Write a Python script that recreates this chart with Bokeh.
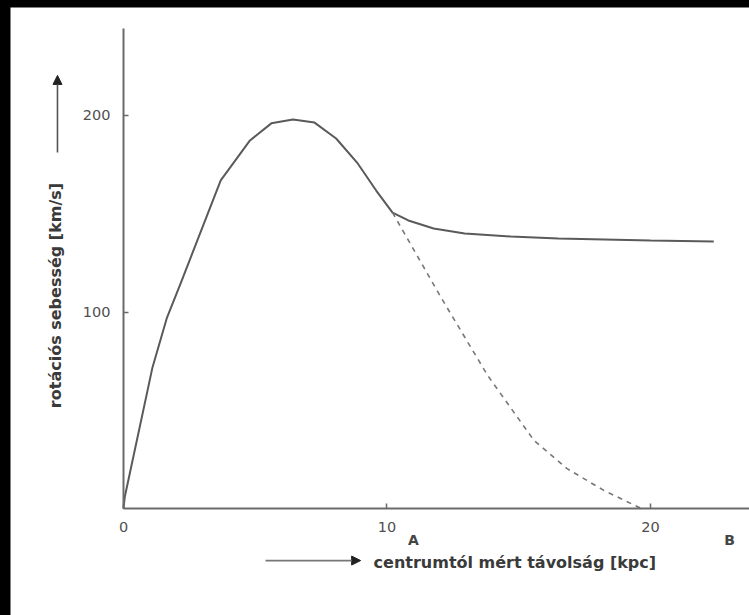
from bokeh.plotting import figure
from bokeh.models import Arrow, NormalHead, Label, FixedTicker, Range1d
from bokeh.layouts import column
from bokeh.embed import file_html
from bokeh.resources import INLINE

# ---- data ----
rot_x = [0, 0.05, 1.1, 1.64, 2.21, 3.69, 4.80, 5.61, 6.43, 7.25, 8.07, 8.89, 9.59, 10.21,
         10.81, 11.77, 12.95, 14.7, 16.5, 20.0, 22.4]
rot_v = [0, 6, 71.8, 96.7, 116, 167, 187.3, 196, 198, 196.4, 188.3, 175.6, 161.8, 150.6,
         146.6, 142.5, 140, 138.4, 137.4, 136.4, 135.9]
kep_x = [10.21, 12.05, 13.82, 15.58, 16.82, 18.23, 19.65]
kep_v = [150.6, 107.4, 67.7, 34.6, 20.4, 9.2, 0]
x_ticks = [0, 10, 20]
y_ticks = [100, 200]
x_title = "centrumtól mért távolság [kpc]"
y_title = "rotációs sebesség [km/s]"
marks = ["A", "B"]
mark_x = [11.0, 23.0]

X_MAX = 23.757
Y_MAX = 244.3
FONT = "DejaVu Sans"

p = figure(width=739, height=608, output_backend="svg", toolbar_location=None,
           x_range=Range1d(-4.288, X_MAX), y_range=Range1d(-54.45, 254.96),
           min_border=0)
p.grid.visible = False
p.outline_line_color = None
p.background_fill_color = "white"
p.border_fill_color = "white"

for ax in (p.xaxis[0], p.yaxis[0]):
    ax.fixed_location = 0
    ax.axis_line_color = "#6a6a6a"
    ax.axis_line_width = 2
    ax.major_tick_line_color = "#6a6a6a"
    ax.major_tick_line_width = 1.5
    ax.major_tick_in = 5
    ax.major_tick_out = 0
    ax.minor_tick_line_color = None
    ax.major_label_text_font = FONT
    ax.major_label_text_font_size = "14.5px"
    ax.major_label_text_color = "#4f4f4f"
p.xaxis[0].bounds = (0, X_MAX)
p.yaxis[0].bounds = (0, Y_MAX)
p.xaxis[0].ticker = FixedTicker(ticks=x_ticks)
p.yaxis[0].ticker = FixedTicker(ticks=y_ticks)
p.xaxis[0].major_label_standoff = 13
p.yaxis[0].major_label_standoff = 13

p.line(rot_x, rot_v, line_color="#5a5a5a", line_width=2)
p.line(kep_x, kep_v, line_color="#777777", line_width=1.6, line_dash="5 5")

# axis titles with arrows
p.add_layout(Label(x=-2.58, y=108.4, text=y_title, angle=90, angle_units="deg",
                   text_align="center", text_baseline="middle", text_font=FONT,
                   text_font_size="16px", text_font_style="bold", text_color="#3a3a3a"))
p.add_layout(Arrow(x_start=-2.505, y_start=181.2, x_end=-2.505, y_end=220.4,
                   line_color="#555555", line_width=1.6,
                   end=NormalHead(size=9, fill_color="#222222", line_color="#222222")))
p.add_layout(Label(x=9.49, y=-27.5, text=x_title, text_align="left",
                   text_baseline="middle", text_font=FONT, text_font_size="16px",
                   text_font_style="bold", text_color="#3a3a3a"))
p.add_layout(Arrow(x_start=5.39, y_start=-26.5, x_end=9.0, y_end=-26.5,
                   line_color="#777777", line_width=1.8,
                   end=NormalHead(size=9, fill_color="#222222", line_color="#222222")))
for t, mx in zip(marks, mark_x):
    p.add_layout(Label(x=mx, y=-16, text=t, text_align="center", text_baseline="middle",
                       text_font=FONT, text_font_size="14px", text_font_style="bold",
                       text_color="#444444"))

layout = column(p, styles={"background-color": "black", "padding-top": "7px",
                           "padding-left": "10px"})

open("out.html", "w").write(file_html(layout, INLINE))
